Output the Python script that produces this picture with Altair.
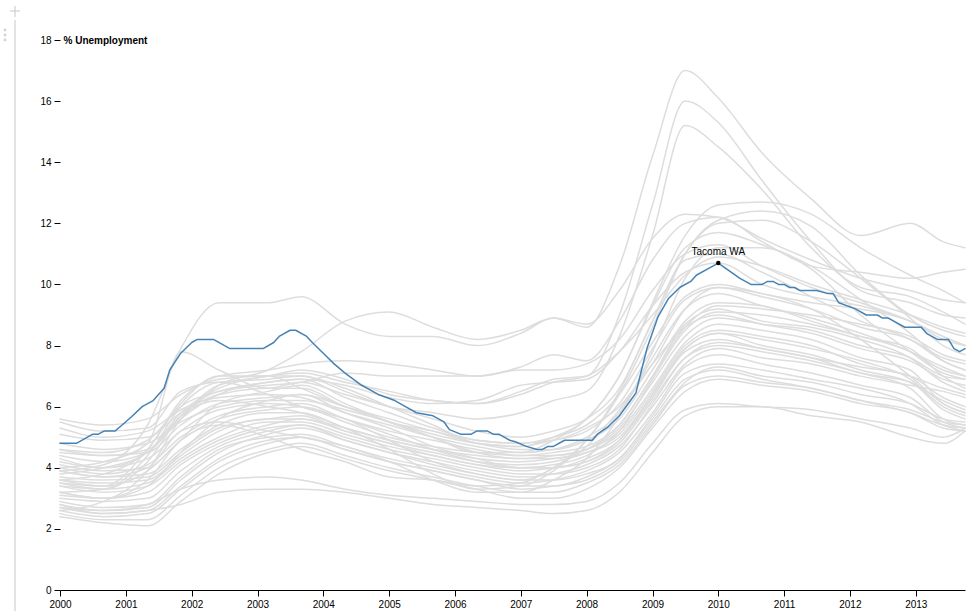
import altair as alt
import pandas as pd

# ---- data ----
grid_dates = ["2000-01-01", "2000-09-01", "2001-05-01", "2001-11-01", "2002-06-01", "2003-03-01",
              "2003-09-01", "2004-05-01", "2005-01-01", "2005-09-01", "2006-05-01", "2007-01-01",
              "2007-07-01", "2008-01-01", "2008-07-01", "2009-01-01", "2009-07-01", "2010-01-01",
              "2010-09-01", "2011-06-01", "2012-03-01", "2012-12-01", "2013-06-01", "2013-10-01"]

gray_series = {
    "Detroit-Livonia-Dearborn MI": [3.9,4.1,5.4,7.9,9.4,9.4,9.6,8.7,8.3,8.3,8.0,8.4,8.9,8.6,10.6,14.2,17.0,16.1,14.3,12.8,11.6,12.0,11.4,11.2],
    "Warren-Troy-Farmington Hills MI": [2.6,2.9,3.9,5.6,6.7,7.0,7.2,6.9,6.4,6.2,6.1,6.5,6.9,7.0,9.0,12.6,16.0,15.3,13.4,11.4,9.8,9.4,9.0,8.9],
    "Riverside-San Bernardino CA": [3.2,3.3,4.4,6.0,6.8,6.9,7.0,6.5,6.0,5.8,5.6,5.8,6.2,6.5,8.3,11.6,15.2,14.5,13.1,11.2,9.9,9.6,9.1,8.7],
    "Gary IN": [4.0,4.2,4.8,7.8,7.2,6.6,6.8,6.4,6.0,5.6,5.2,5.0,5.2,5.6,6.6,8.8,10.8,11.0,10.4,9.6,8.8,8.2,7.5,7.2],
    "Los Angeles-Long Beach-Glendale CA": [5.6,5.4,5.6,6.4,6.9,7.0,7.0,6.6,6.0,5.4,4.8,4.7,5.0,5.6,7.0,9.4,11.6,12.6,12.7,12.3,11.2,10.3,9.8,9.4],
    "Miami-Miami Beach-Kendall FL": [5.5,5.2,5.3,6.5,6.8,6.4,6.0,5.6,4.9,4.2,3.8,3.6,4.0,4.9,6.4,8.6,11.0,12.1,12.4,11.9,10.3,9.0,8.5,8.3],
    "Oakland-Fremont-Hayward CA": [3.6,3.4,4.6,6.1,7.0,7.0,6.6,6.0,5.5,5.0,4.5,4.5,4.9,5.6,7.0,9.3,11.2,11.7,11.3,10.6,9.5,8.4,7.5,7.2],
    "Fort Lauderdale-Pompano Beach FL": [3.9,3.7,4.0,5.2,5.5,5.2,5.0,4.7,4.2,3.6,3.2,3.2,3.6,4.3,5.7,7.8,10.2,11.2,11.2,10.5,9.0,7.8,7.1,6.9],
    "West Palm Beach-Boca Raton FL": [4.4,4.2,4.5,5.7,6.2,6.0,5.8,5.3,4.6,3.8,3.3,3.4,3.9,4.9,6.5,8.8,11.0,12.0,12.1,11.4,10.2,8.9,8.0,7.7],
    "Santa Ana-Anaheim-Irvine CA": [3.2,3.0,3.6,4.9,5.4,5.0,4.6,4.2,3.7,3.6,3.4,3.5,4.0,4.7,5.9,7.4,9.2,9.9,9.7,9.2,8.2,7.0,6.1,5.8],
    "Flint MI": [3.8,4.0,4.5,5.6,6.7,7.2,7.8,8.8,9.1,8.6,8.2,8.5,8.9,8.7,9.8,11.5,12.3,12.2,11.5,10.8,10.2,9.8,9.5,9.4],
    "Chicago-Joliet-Naperville IL": [3.6,3.8,4.6,6.2,7.0,7.2,7.4,7.5,7.4,7.2,7.0,7.3,7.7,7.5,8.8,10.8,12.0,12.2,11.4,10.6,10.4,10.2,10.4,10.5],
    "Newark-Union NJ-PA": [3.4,3.3,4.2,5.7,6.5,6.7,6.8,7.1,7.0,7.0,7.0,7.2,7.2,7.4,8.2,9.8,11.0,11.3,10.6,9.9,9.4,8.8,8.3,8.0],
    "Camden NJ": [4.6,4.5,4.9,6.0,6.5,6.8,6.9,6.7,6.3,6.1,6.2,6.7,6.8,6.9,7.8,9.3,10.4,10.7,10.0,9.6,9.3,8.8,8.3,8.0],
    "Lake County-Kenosha County IL-WI": [4.2,4.0,4.5,5.8,6.6,7.0,7.1,6.8,6.5,6.2,6.1,6.4,6.8,7.0,7.8,9.0,10.3,10.9,10.6,10.0,9.5,9.0,8.6,8.4],
    "Philadelphia PA": [5.3,5.0,5.2,5.9,6.3,6.4,6.3,5.8,5.4,5.0,4.7,4.5,4.6,5.0,5.8,7.6,9.2,9.7,9.3,8.9,8.4,7.8,7.3,7.0],
    "New York-White Plains-Wayne NY-NJ": [4.8,4.6,4.8,5.5,6.0,6.2,6.2,5.9,5.5,5.1,4.8,4.7,4.9,5.2,6.1,7.9,9.5,9.9,9.6,9.2,8.6,8.2,7.6,7.4],
    "Wilmington DE-MD-NJ": [4.5,4.4,4.5,5.4,6.1,6.3,6.4,6.0,5.6,5.2,4.8,4.6,4.6,4.9,5.6,7.2,8.8,9.4,9.3,8.8,8.3,7.9,7.0,6.6],
    "Seattle-Bellevue-Everett WA": [4.3,4.0,4.3,5.2,5.9,6.1,6.0,5.5,5.0,4.7,4.5,4.4,4.5,4.7,5.4,7.0,8.7,9.2,8.8,8.6,8.2,7.6,6.8,6.5],
    "Fort Worth-Arlington TX": [4.1,3.9,4.0,4.9,5.6,5.9,6.0,5.6,5.2,4.9,4.6,4.4,4.4,4.6,5.3,6.8,8.3,8.9,8.7,8.5,8.0,7.6,7.0,6.9],
    "Dallas-Plano-Irving TX": [3.9,3.7,3.8,4.6,5.4,5.8,5.8,5.3,4.9,4.6,4.4,4.3,4.4,4.6,5.2,6.6,8.1,8.7,8.5,8.2,7.6,7.2,6.1,5.8],
    "San Francisco-San Mateo CA": [3.7,3.6,3.7,4.5,5.3,5.6,5.7,5.2,4.8,4.5,4.2,4.1,4.2,4.5,5.1,6.5,8.0,8.5,8.3,8.0,7.4,7.0,6.6,6.4],
    "Nassau-Suffolk NY": [3.6,3.5,3.6,4.4,5.2,5.6,5.6,5.3,4.9,4.6,4.3,4.2,4.3,4.5,5.0,6.4,7.9,8.4,8.0,7.7,7.2,6.8,6.2,5.9],
    "Edison-New Brunswick NJ": [3.5,3.3,3.5,4.3,5.0,5.5,5.5,5.1,4.7,4.4,4.1,4.0,4.0,4.3,4.9,6.3,7.8,8.2,7.9,7.6,7.3,7.0,6.3,6.0],
    "Boston-Cambridge-Quincy MA": [3.4,3.2,3.4,4.2,4.9,5.4,5.6,5.2,4.8,4.4,4.1,3.9,4.0,4.2,4.8,6.2,7.6,8.0,7.8,7.5,7.1,6.6,5.6,5.4],
    "Washington-Arlington-Alexandria DC-VA-MD-WV": [3.2,3.0,3.2,4.1,4.8,5.3,5.4,4.9,4.5,4.2,3.9,3.7,3.8,4.1,4.7,6.0,7.4,7.9,7.6,7.4,7.0,6.7,6.5,6.3],
    "Brockton-Bridgewater-Easton MA": [3.0,2.9,3.0,3.9,4.7,5.2,5.4,5.0,4.6,4.3,4.0,3.8,3.8,4.0,4.6,6.1,7.6,8.1,7.9,7.6,7.1,6.8,5.9,5.6],
    "Lowell-Billerica-Chelmsford MA-NH": [2.9,2.7,2.8,3.7,4.6,5.0,5.1,4.7,4.3,4.0,3.7,3.5,3.6,3.9,4.5,5.8,7.3,7.7,7.4,7.1,6.7,6.3,5.5,5.3],
    "Framingham MA": [2.8,2.6,2.7,3.6,4.5,5.1,5.3,4.9,4.5,4.1,3.8,3.6,3.6,3.8,4.3,5.7,7.1,7.4,7.2,6.9,6.6,6.1,5.4,5.2],
    "Peabody MA": [2.7,2.5,2.6,3.4,4.3,4.9,5.0,4.6,4.2,3.9,3.6,3.3,3.4,3.6,4.2,5.5,6.8,7.3,7.0,6.8,6.4,6.1,5.6,5.5],
    "Nashua NH-MA": [2.6,2.4,2.5,3.3,4.2,4.8,5.0,4.6,4.2,3.9,3.6,3.4,3.4,3.7,4.3,5.6,6.9,7.2,6.9,6.6,6.2,5.8,5.4,5.3],
    "Haverhill-North Andover-Amesbury MA-NH": [2.5,2.3,2.3,3.1,4.0,4.6,4.8,4.4,4.0,3.7,3.4,3.2,3.2,3.5,4.1,5.4,6.7,7.0,6.8,6.6,6.2,5.9,5.5,5.4],
    "Lynn-Saugus-Marblehead MA": [2.4,2.2,2.1,2.9,3.8,4.5,4.7,4.3,3.9,3.6,3.3,3.0,3.0,3.3,4.0,5.3,6.5,6.9,6.7,6.5,6.1,5.8,5.3,5.2],
    "Bethesda-Rockville-Frederick MD": [2.7,2.6,2.8,3.3,3.6,3.7,3.6,3.3,3.1,3.0,2.9,2.8,2.8,2.9,3.5,4.8,5.9,6.1,6.0,5.9,5.6,5.3,5.0,5.3],
    "Rockingham County-Strafford County NH": [2.8,2.5,2.6,2.8,3.2,3.3,3.3,3.2,3.0,2.8,2.7,2.6,2.5,2.6,3.2,4.5,5.7,6.0,6.0,5.7,5.5,5.0,4.8,5.2],
    "Taunton-Norton-Raynham MA": [5.1,4.9,5.0,5.8,6.4,6.6,6.6,6.0,5.5,5.2,4.9,4.8,5.0,5.4,6.4,8.1,9.6,10.0,9.7,9.4,9.2,8.8,8.2,8.0],
    "Lawrence-Methuen-Salem MA-NH": [4.6,4.4,4.6,5.6,6.4,6.8,6.9,6.3,5.8,5.3,4.9,4.8,4.9,5.3,6.0,7.4,8.6,9.0,8.7,8.4,7.9,7.5,6.9,6.7],
    "Springfield MA-CT": [4.0,3.8,4.1,5.0,5.7,6.0,6.1,5.6,5.1,4.6,4.2,4.0,4.1,4.4,5.2,6.9,8.5,9.1,9.0,8.7,8.3,7.8,7.2,7.0],
    "Worcester MA-CT": [3.1,3.0,3.4,4.5,5.6,6.2,6.4,5.8,5.3,4.7,4.3,4.0,4.0,4.2,4.9,6.4,7.9,8.4,8.2,7.9,7.5,6.9,6.0,5.7],
    "Hartford-West Hartford-East Hartford CT": [3.5,3.4,3.9,4.9,6.1,6.5,6.7,6.1,5.5,5.0,4.5,4.3,4.3,4.6,5.4,7.0,8.6,9.3,9.2,9.0,8.7,8.3,7.7,7.5],
}

tacoma_dates = ["2000-01-01","2000-04-01","2000-07-01","2000-08-01","2000-09-01","2000-11-01","2000-12-01",
                "2001-02-01","2001-04-01","2001-06-01","2001-08-01","2001-09-01","2001-11-01","2002-01-01",
                "2002-02-01","2002-05-01","2002-08-01","2003-02-01","2003-04-01","2003-05-01","2003-07-01",
                "2003-08-01","2003-10-01","2003-11-01","2004-01-01","2004-03-01","2004-05-01","2004-08-01",
                "2004-11-01","2005-02-01","2005-04-01","2005-06-01","2005-09-01","2005-11-01","2005-12-01",
                "2006-02-01","2006-04-01","2006-05-01","2006-07-01","2006-08-01","2006-09-01","2006-11-01",
                "2006-12-01","2007-02-01","2007-04-01","2007-05-01","2007-06-01","2007-07-01","2007-09-01",
                "2008-02-01","2008-03-01","2008-05-01","2008-07-01","2008-09-01","2008-10-01","2008-11-01",
                "2008-12-01","2009-02-01","2009-04-01","2009-06-01","2009-08-01","2009-09-01","2009-11-01",
                "2010-01-01","2010-03-01","2010-05-01","2010-07-01","2010-09-01","2010-10-01","2010-11-01",
                "2010-12-01","2011-01-01","2011-02-01","2011-03-01","2011-04-01","2011-07-01","2011-09-01",
                "2011-10-01","2011-11-01","2012-02-01","2012-04-01","2012-06-01","2012-07-01","2012-08-01",
                "2012-09-01","2012-11-01","2013-02-01","2013-03-01","2013-05-01","2013-07-01","2013-08-01",
                "2013-09-01","2013-10-01"]
tacoma_values = [4.8,4.8,5.1,5.1,5.2,5.2,5.35,
                 5.67,6.0,6.2,6.6,7.2,7.75,8.1,
                 8.2,8.2,7.9,7.9,8.1,8.3,8.5,
                 8.5,8.3,8.1,7.75,7.4,7.1,6.7,
                 6.4,6.2,6.0,5.8,5.7,5.5,5.25,
                 5.1,5.1,5.2,5.2,5.1,5.1,4.9,
                 4.85,4.7,4.6,4.6,4.7,4.7,4.9,
                 4.9,5.1,5.35,5.7,6.2,6.45,7.2,
                 7.9,8.95,9.55,9.9,10.1,10.3,10.5,
                 10.7,10.45,10.2,10.0,10.0,10.1,10.1,
                 10.0,10.0,9.9,9.9,9.8,9.8,9.7,
                 9.7,9.4,9.2,9.0,9.0,8.9,8.9,
                 8.8,8.6,8.6,8.4,8.2,8.2,7.9,
                 7.8,7.9]

highlight_name = "Tacoma WA"
highlight_date = "2010-01-01"
highlight_value = 10.7

y_ticks = [0, 2, 4, 6, 8, 10, 12, 14, 16, 18]
x_domain = ["2000-01-01", "2013-10-01"]

# ---- build tables ----
gray_rows = []
for name, vals in gray_series.items():
    for d, v in zip(grid_dates, vals):
        gray_rows.append({"division": name, "date": d, "unemployment": v})
gray_df = pd.DataFrame(gray_rows)
tac_df = pd.DataFrame({"division": highlight_name, "date": tacoma_dates, "unemployment": tacoma_values})
peak_df = pd.DataFrame({"division": [highlight_name], "date": [highlight_date], "unemployment": [highlight_value]})

FONT = "Liberation Sans"

x_enc = alt.X("date:T",
              scale=alt.Scale(type="utc", domain=x_domain, nice=False),
              axis=alt.Axis(format="%Y", formatType="utc", tickCount={"interval": "year", "step": 1},
                            title=None, grid=False, domainColor="#000", tickColor="#000", tickSize=6,
                            labelColor="#000", labelFontSize=10, labelFont=FONT, labelPadding=3,
                            labelFlush=False, labelOverlap=False))
y_enc = alt.Y("unemployment:Q",
              scale=alt.Scale(domain=[0, 18], nice=False, zero=True),
              axis=alt.Axis(values=y_ticks, domain=False, grid=False, tickSize=6, tickColor="#000",
                            labelColor="#000", labelFontSize=10, labelFont=FONT, labelPadding=3,
                            title="% Unemployment", titleAngle=0, titleX=3, titleY=0,
                            titleAlign="left", titleBaseline="middle", titleFontWeight="bold",
                            titleFontSize=10, titleFont=FONT, titleColor="#000"))

gray = alt.Chart(gray_df).mark_line(stroke="#ddd", strokeWidth=1.5, interpolate="monotone",
                                   strokeJoin="round", strokeCap="round").encode(
    x=x_enc, y=y_enc, detail="division:N")

tac = alt.Chart(tac_df).mark_line(stroke="steelblue", strokeWidth=1.5, strokeJoin="round",
                                  strokeCap="round").encode(
    x="date:T", y="unemployment:Q")

dot = alt.Chart(peak_df).mark_circle(color="#000", opacity=1, size=20).encode(
    x="date:T", y="unemployment:Q")

label = alt.Chart(peak_df).mark_text(fontSize=10, font=FONT, dy=-8, baseline="alphabetic",
                                     align="center", color="#000").encode(
    x="date:T", y="unemployment:Q", text="division:N")

# notebook gutter decoration on the left edge
one = pd.DataFrame({"k": [0]})
deco_color = "#c3c7cd"
gutter = alt.Chart(one).mark_rule(color=deco_color, strokeWidth=1).encode(
    x=alt.value(-45), y=alt.value(-20), y2=alt.value(571))
plus_h = alt.Chart(one).mark_rule(color=deco_color, strokeWidth=1).encode(
    x=alt.value(-50), x2=alt.value(-40), y=alt.value(-29))
plus_v = alt.Chart(one).mark_rule(color=deco_color, strokeWidth=1).encode(
    x=alt.value(-45), y=alt.value(-34), y2=alt.value(-23))
dot_layers = [alt.Chart(one).mark_circle(color="#d0d3d8", opacity=1, size=8).encode(
    x=alt.value(-55), y=alt.value(dy)) for dy in (-10, -5, 0)]

chart = alt.layer(gray, tac, dot, label, gutter, plus_h, plus_v, *dot_layers).properties(
    width=905, height=550,
    autosize=alt.AutoSizeParams(type="none"),
    padding={"left": 60, "top": 40, "right": 5, "bottom": 21},
).configure_view(stroke=None)

chart.save("out.html", embed_options={"renderer": "svg", "actions": False})
